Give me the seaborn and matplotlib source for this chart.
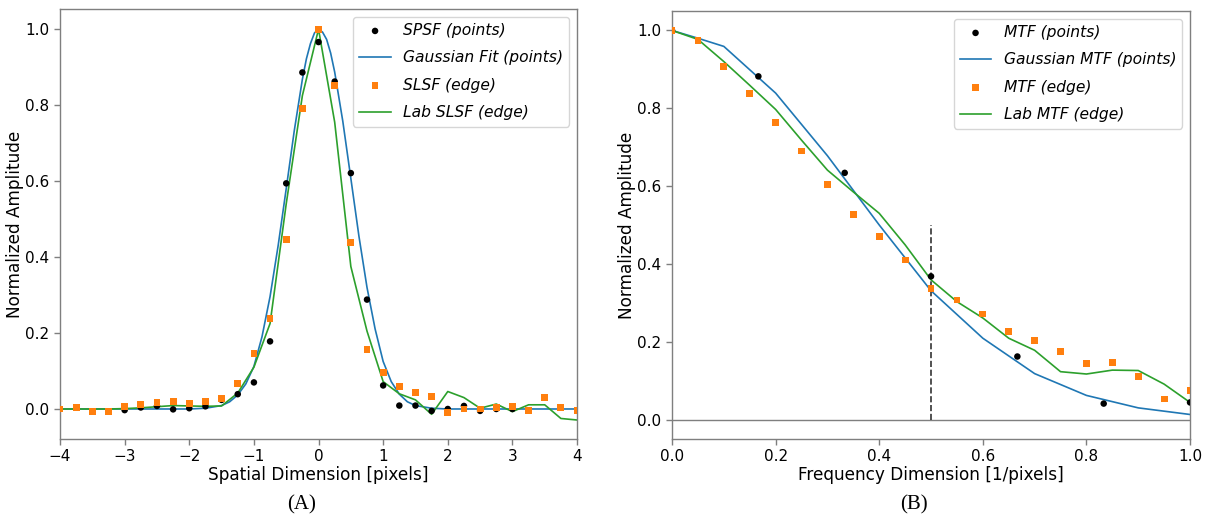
import matplotlib
matplotlib.use("Agg")
import matplotlib.pyplot as plt
import seaborn as sns

# ---------------- Data: panel A (spatial) ----------------
spsf_x = [-3.0, -2.75, -2.5, -2.25, -2.0, -1.75, -1.5, -1.25, -1.0, -0.75, -0.5, -0.25,
          0.0, 0.25, 0.5, 0.75, 1.0, 1.25, 1.5, 1.75, 2.0, 2.25, 2.5, 2.75, 3.0]
spsf_y = [-0.003, 0.004, 0.008, -0.001, 0.002, 0.007, 0.024, 0.039, 0.070, 0.178, 0.594, 0.886,
          0.966, 0.862, 0.621, 0.288, 0.062, 0.009, 0.009, -0.005, 0.0, 0.008, -0.005, 0.0, 0.0]

gauss_x = [-4.0, -3.0, -2.0, -1.75, -1.5, -1.375, -1.25, -1.125, -1.0, -0.875, -0.75, -0.625,
           -0.5, -0.375, -0.25, -0.1875, -0.125, -0.0625, 0.0, 0.0625, 0.125, 0.1875, 0.25,
           0.375, 0.5, 0.625, 0.75, 0.875, 1.0, 1.125, 1.25, 1.375, 1.5, 1.75, 2.0, 3.0, 4.0]
gauss_y = [0.0, 0.0, 0.0, 0.002, 0.009, 0.019, 0.037, 0.066, 0.112, 0.190, 0.296, 0.430,
           0.580, 0.733, 0.868, 0.922, 0.962, 0.990, 1.0, 0.992, 0.973, 0.937, 0.887,
           0.758, 0.607, 0.455, 0.320, 0.211, 0.125, 0.072, 0.039, 0.019, 0.009, 0.002, 0.0, 0.0, 0.0]

slsf_x = [-4.0, -3.75, -3.5, -3.25, -3.0, -2.75, -2.5, -2.25, -2.0, -1.75, -1.5, -1.25, -1.0,
          -0.75, -0.5, -0.25, 0.0, 0.25, 0.5, 0.75, 1.0, 1.25, 1.5, 1.75, 2.0, 2.25, 2.5,
          2.75, 3.0, 3.25, 3.5, 3.75, 4.0]
slsf_y = [0.0, 0.004, -0.007, -0.007, 0.006, 0.011, 0.018, 0.019, 0.014, 0.019, 0.028, 0.068, 0.147,
          0.238, 0.447, 0.791, 1.0, 0.851, 0.438, 0.157, 0.096, 0.059, 0.044, 0.033, -0.009, 0.0, 0.0,
          0.004, 0.006, -0.003, 0.030, 0.004, -0.005]

lab_slsf_y = [0.0, 0.0, 0.0, 0.0, 0.001, 0.003, 0.006, 0.009, 0.008, 0.007, 0.008, 0.042, 0.110,
              0.225, 0.540, 0.825, 1.0, 0.755, 0.375, 0.205, 0.072, 0.040, 0.024, -0.014, 0.046, 0.030, 0.002,
              0.013, -0.007, 0.011, 0.011, -0.025, -0.029]

# ---------------- Data: panel B (frequency) ----------------
mtf_pts_x = [0.0, 1/6, 2/6, 3/6, 4/6, 5/6, 1.0]
mtf_pts_y = [1.0, 0.882, 0.634, 0.368, 0.162, 0.041, 0.044]

gauss_mtf_x = [0.0, 0.05, 0.1, 0.2, 0.3, 0.4, 0.5, 0.6, 0.7, 0.8, 0.9, 1.0]
gauss_mtf_y = [1.0, 0.980, 0.959, 0.839, 0.678, 0.500, 0.331, 0.209, 0.118, 0.062, 0.030, 0.013]

mtf_edge_x = [0.0, 0.05, 0.1, 0.15, 0.2, 0.25, 0.3, 0.35, 0.4, 0.45, 0.5, 0.55, 0.6, 0.65, 0.7,
              0.75, 0.8, 0.85, 0.9, 0.95, 1.0]
mtf_edge_y = [1.0, 0.974, 0.907, 0.837, 0.763, 0.690, 0.604, 0.526, 0.471, 0.410, 0.336, 0.307,
              0.271, 0.226, 0.203, 0.175, 0.145, 0.147, 0.110, 0.053, 0.074]
lab_mtf_y = [1.0, 0.977, 0.920, 0.859, 0.797, 0.718, 0.641, 0.585, 0.530, 0.449, 0.359, 0.303,
             0.261, 0.209, 0.178, 0.123, 0.117, 0.127, 0.126, 0.091, 0.044]

nyquist = 0.5
nyquist_top = 0.5

left_labels = ["SPSF (points)", "Gaussian Fit (points)", "SLSF (edge)", "Lab SLSF (edge)"]
right_labels = ["MTF (points)", "Gaussian MTF (points)", "MTF (edge)", "Lab MTF (edge)"]
captions = ["(A)", "(B)"]

C_BLUE, C_ORANGE, C_GREEN = "#1f77b4", "#ff7f0e", "#2ca02c"

fig = plt.figure(figsize=(12.1, 5.21), dpi=100)
axA = fig.add_axes([0.0496, 0.1574, 0.4273, 0.8253])
axB = fig.add_axes([0.5554, 0.1574, 0.4281, 0.8215])

LEG_KW = dict(loc="upper right", prop={"style": "italic", "size": 11.2}, handlelength=2.0,
              handletextpad=0.8, borderpad=0.4, labelspacing=0.8, borderaxespad=0.5)

def style_axes(ax):
    for s in ax.spines.values():
        s.set_color("#7f7f7f")
        s.set_linewidth(1.0)
    ax.tick_params(axis="both", labelsize=11, color="#7f7f7f", length=4, width=1)

# Panel A
sns.scatterplot(x=spsf_x, y=spsf_y, ax=axA, color="black", marker="o", s=22,
                edgecolor="none", label=left_labels[0], zorder=3)
sns.lineplot(x=gauss_x, y=gauss_y, ax=axA, color=C_BLUE, lw=1.2, label=left_labels[1],
             sort=False, estimator=None)
sns.scatterplot(x=slsf_x, y=slsf_y, ax=axA, color=C_ORANGE, marker="s", s=24,
                edgecolor="none", label=left_labels[2], zorder=3)
sns.lineplot(x=slsf_x, y=lab_slsf_y, ax=axA, color=C_GREEN, lw=1.2, label=left_labels[3],
             sort=False, estimator=None)
axA.set_xlim(-4, 4)
axA.set_ylim(-0.079, 1.053)
axA.set_xticks([-4, -3, -2, -1, 0, 1, 2, 3, 4])
axA.set_yticks([0.0, 0.2, 0.4, 0.6, 0.8, 1.0])
axA.set_xlabel("Spatial Dimension [pixels]", fontsize=12.2, labelpad=1)
axA.set_ylabel("Normalized Amplitude", fontsize=12.2, labelpad=1)
style_axes(axA)
axA.legend(**LEG_KW)

# Panel B
axB.axhline(0, color="#7f7f7f", lw=1.0, zorder=1)
sns.scatterplot(x=mtf_pts_x, y=mtf_pts_y, ax=axB, color="black", marker="o", s=22,
                edgecolor="none", label=right_labels[0], zorder=3)
sns.lineplot(x=gauss_mtf_x, y=gauss_mtf_y, ax=axB, color=C_BLUE, lw=1.2, label=right_labels[1],
             sort=False, estimator=None)
sns.scatterplot(x=mtf_edge_x, y=mtf_edge_y, ax=axB, color=C_ORANGE, marker="s", s=24,
                edgecolor="none", label=right_labels[2], zorder=3)
sns.lineplot(x=mtf_edge_x, y=lab_mtf_y, ax=axB, color=C_GREEN, lw=1.2, label=right_labels[3],
             sort=False, estimator=None)
axB.vlines(nyquist, 0, nyquist_top, colors="#333333", linestyles="--", lw=1.2, zorder=2)
axB.set_xlim(0, 1)
axB.set_ylim(-0.05, 1.05)
axB.set_xticks([0.0, 0.2, 0.4, 0.6, 0.8, 1.0])
axB.set_yticks([0.0, 0.2, 0.4, 0.6, 0.8, 1.0])
axB.set_xlabel("Frequency Dimension [1/pixels]", fontsize=12.2, labelpad=1)
axB.set_ylabel("Normalized Amplitude", fontsize=12.2, labelpad=1)
style_axes(axB)
axB.legend(**LEG_KW)

fig.text(0.2496, 0.031, captions[0], ha="center", va="center", fontsize=15,
         family=["Liberation Serif", "DejaVu Serif"])
fig.text(0.7554, 0.031, captions[1], ha="center", va="center", fontsize=15,
         family=["Liberation Serif", "DejaVu Serif"])

fig.savefig("out.png", dpi=100)
